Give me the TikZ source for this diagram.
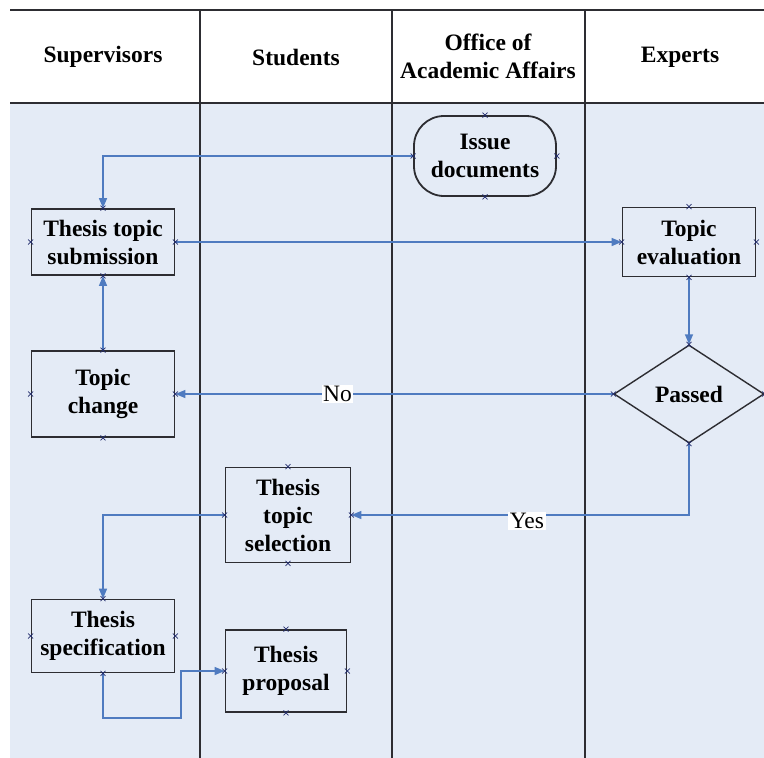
\documentclass[tikz,border=0pt]{standalone}
\usepackage{fontspec}
\setmainfont{Liberation Serif}
\usetikzlibrary{arrows.meta,shapes.geometric}
\definecolor{lanebg}{RGB}{228,235,246}
\definecolor{flow}{RGB}{79,123,192}
\definecolor{rule}{RGB}{45,45,50}
\definecolor{cpt}{RGB}{35,45,110}
\tikzset{
  proc/.style={draw=rule, line width=1.8pt, align=center, inner sep=0pt,
    font=\bfseries\fontsize{23.5}{28}\selectfont},
  term/.style={proc, rounded corners=30pt},
  decide/.style={proc, diamond, line width=1.4pt},
  head/.style={align=center, inner sep=0pt, font=\bfseries\fontsize{23.5}{28}\selectfont},
  flowline/.style={draw=flow, line width=1.4pt, -{Triangle[length=10pt,width=8pt]}},
  lbl/.style={fill=white, inner sep=1.5pt, text=black, font=\fontsize{23.5}{28}\selectfont},
  lane/.style={draw=rule, line width=2.4pt},
  thinlane/.style={draw=rule, line width=1.4pt},
  xmark/.style={draw=cpt, line width=0.7pt}
}
\begin{document}
\begin{tikzpicture}[x=1pt,y=-1pt]
\useasboundingbox (0,0) rectangle (764,758);
\fill[white] (0,0) rectangle (764,758);
\fill[lanebg] (10,103) rectangle (764,758);
% header rules
\draw[thinlane] (10,10) -- (764,10);
\draw[thinlane] (10,103) -- (764,103);
\draw[lane] (200,10) -- (200,758);
\draw[thinlane] (392,10) -- (392,758);
\draw[lane] (585,10) -- (585,758);
% headers
\node[head] (hsup) at (103,57) {Supervisors};
\node[head] (hstu) at (296,57) {Students};
\node[head] (hoff) at (488,56) {Office of\\Academic Affairs};
\node[head] (hexp) at (680,57) {Experts};
% nodes
\node[term, minimum width=142pt, minimum height=80pt] (issue) at (485,156) {Issue\\documents};
\node[proc, minimum width=143pt, minimum height=66pt] (sub) at (103,242) {Thesis topic\\submission};
\node[proc, minimum width=143pt, minimum height=86pt] (change) at (103,394) {Topic\\change};
\node[proc, minimum width=133pt, minimum height=69pt] (eval) at (689,242) {Topic\\evaluation};
\node[decide, minimum width=150pt, minimum height=98pt] (passed) at (689,394) {Passed};
\node[proc, minimum width=125pt, minimum height=95pt] (sel) at (288,515) {Thesis\\topic\\selection};
\node[proc, minimum width=143pt, minimum height=73pt] (spec) at (103,636) {Thesis\\specification};
\node[proc, minimum width=121pt, minimum height=82pt] (prop) at (286,671) {Thesis\\proposal};
\coordinate (bend) at (181,718);
% connectors
\draw[flowline] (issue.west) -| (sub.north);
\draw[flowline] (sub.east) -- (eval.west);
\draw[flowline] (change.north) -- (sub.south);
\draw[flowline] (eval.south) -- (passed.north);
\draw[flowline] (passed.west) -- node[lbl, pos=0.63] {No} (change.east);
\draw[flowline] (passed.south) |- node[lbl, pos=0.74, yshift=-6pt] {Yes} (sel.east);
\draw[flowline] (sel.west) -| (spec.north);
\draw[flowline] (spec.south) |- (bend) |- (prop.west);
% connection point marks
\foreach \n in {issue,sub,change,eval,passed,sel,spec,prop}{
  \foreach \a in {north,south,east,west}{
    \draw[xmark] (\n.\a) ++(-2.5,-2.5) -- ++(5,5) ++(0,-5) -- ++(-5,5);
  }
}
\end{tikzpicture}
\end{document}
